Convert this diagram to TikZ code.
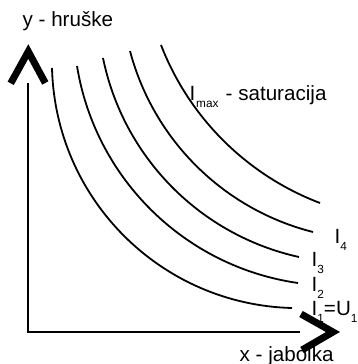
\documentclass[tikz,border=0pt]{standalone}
\usepackage{fontspec}
\setmainfont{Liberation Sans}
\newcommand\lsub[1]{\raisebox{-7pt}{\fontsize{11.8}{12}\selectfont #1}}
\tikzset{
  lbl/.style={anchor=base west, inner sep=0pt, font=\fontsize{20.6}{24}\selectfont},
  curve/.style={line width=1.8pt},
  axis/.style={line width=2pt},
  chevron/.style={line width=7pt, miter limit=10},
}
\begin{document}
\begin{tikzpicture}[x=1pt,y=-1pt]
\useasboundingbox (0,0) rectangle (357,364);
% axes
\coordinate (ytop) at (28,83);
\coordinate (orig) at (28,332);
\coordinate (xend) at (300,332);
\draw[axis] (ytop) -- (orig) -- (xend);
% arrow heads
\draw[chevron] (10.7,83.3) -- (28.3,51.5) -- (45.3,83);
\draw[chevron] (301,314) -- (333,332) -- (302,350);
% indifference curves
\draw[curve] (52,68) .. controls (55.4,199.2) and (160.8,304.6) .. (292,308);
\draw[curve] (77,66) .. controls (95.3,178.8) and (184.9,266.8) .. (298,283);
\draw[curve] (103,58) .. controls (123.3,157.2) and (200.1,235.2) .. (299,257);
\draw[curve] (130,51) .. controls (153.6,140.1) and (223.6,209.4) .. (313,232);
\draw[curve] (161,45) .. controls (189.2,117.8) and (247,175.2) .. (320,203);
% labels
\node[lbl] (ylab) at (22.5,26.7) {y - hruške};
\node[lbl] (xlab) at (239.5,361) {x - jabolka};
\node[lbl] (imax) at (189.5,100) {I\hspace{0.8pt}\lsub{max}\hspace{1.5pt} - saturacija};
\node[lbl] (i4) at (334.5,243.3) {I\lsub{4}};
\node[lbl] (i3) at (311.5,266) {I\lsub{3}};
\node[lbl] (i2) at (311.5,291.5) {I\lsub{2}};
\node[lbl] (i1) at (311.5,315) {I\lsub{1}=U\lsub{1}};
\end{tikzpicture}
\end{document}
